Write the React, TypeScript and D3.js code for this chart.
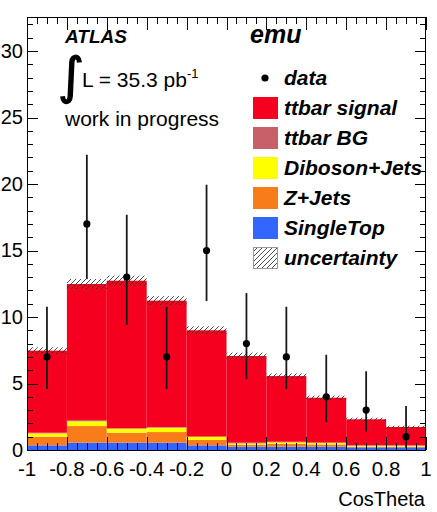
import React from 'react';
import * as d3 from 'd3';

// Bin edges of the CosTheta histogram
const binEdges = [-1, -0.8, -0.6, -0.4, -0.2, 0, 0.2, 0.4, 0.6, 0.8, 1];

// Stacked MC contributions per bin (bottom to top)
const singleTop = [0.35, 0.55, 0.55, 0.55, 0.35, 0.25, 0.25, 0.25, 0.2, 0.2];
const zJets = [0.65, 1.25, 0.75, 0.8, 0.4, 0.15, 0.2, 0.17, 0.05, 0.05];
const dibosonJets = [0.25, 0.36, 0.3, 0.33, 0.23, 0.1, 0.13, 0.11, 0.07, 0.07];
const ttbarBG = [0.05, 0.1, 0.05, 0.05, 0.05, 0.05, 0.04, 0.04, 0.03, 0.03];
const ttbarSignal = [6.17, 10.22, 11.08, 9.5, 7.97, 6.52, 4.94, 3.36, 1.96, 1.38];

// Uncertainty on the MC total
const mcUncertainty = [0.25, 0.38, 0.38, 0.34, 0.3, 0.25, 0.2, 0.16, 0.12, 0.1];

// Observed counts with asymmetric Poisson intervals
const dataCounts = [7, 17, 13, 7, 15, 8, 7, 4, 3, 1];
const dataLow = [4.58, 12.85, 9.42, 4.58, 11.2, 5.32, 4.58, 2.09, 1.37, 0.17];
const dataHigh = [10.77, 22.2, 17.69, 10.77, 19.95, 11.8, 10.77, 7.16, 5.92, 3.3];

// Axis ticks
const xTickValues = [-1, -0.8, -0.6, -0.4, -0.2, 0, 0.2, 0.4, 0.6, 0.8, 1];
const yTickValues = [0, 5, 10, 15, 20, 25, 30];

const keys = ['singleTop', 'zJets', 'dibosonJets', 'ttbarBG', 'ttbarSignal'];
const colors: Record<string, string> = {
  singleTop: '#3366ff',
  zJets: '#f87c1a',
  dibosonJets: '#ffff00',
  ttbarBG: '#c8606a',
  ttbarSignal: '#f5001e',
};

const legendItems = [
  { label: 'ttbar signal', key: 'ttbarSignal' },
  { label: 'ttbar BG', key: 'ttbarBG' },
  { label: 'Diboson+Jets', key: 'dibosonJets' },
  { label: 'Z+Jets', key: 'zJets' },
  { label: 'SingleTop', key: 'singleTop' },
];

const W = 437;
const H = 512;
const left = 27;
const right = 426;
const top = 17;
const bottom = 450;

const FONT = "'Liberation Sans', Arial, Helvetica, sans-serif";

export default function App() {
  const x = d3.scaleLinear().domain([-1, 1]).range([left, right]);
  const y = d3.scaleLinear().domain([0, 32.56]).range([bottom, top]);

  const rows = binEdges.slice(0, -1).map((e, i) => ({
    x0: e,
    x1: binEdges[i + 1],
    singleTop: singleTop[i],
    zJets: zJets[i],
    dibosonJets: dibosonJets[i],
    ttbarBG: ttbarBG[i],
    ttbarSignal: ttbarSignal[i],
  }));
  const series = d3.stack<any>().keys(keys)(rows);
  const totals = rows.map((r) => keys.reduce((s, k) => s + (r as any)[k], 0));

  const xMinor = d3.range(-1, 1.0001, 0.05);
  const yMinor = d3.range(0, 32.5, 1);
  const fmtX = (v: number) => (Math.abs(v) < 1e-9 ? '0' : String(+v.toFixed(1)));

  const legendX = 253;
  const legendRow = (i: number) => 78 + 30 * i;

  return (
    <svg
      width={W}
      height={H}
      style={{ position: 'absolute', left: 0, top: 0, background: '#fff' }}
      fontFamily={FONT}
    >
      <defs>
        <pattern id="hatch" patternUnits="userSpaceOnUse" width={5} height={5}>
          <path d="M-1,1 l2,-2 M0,5 l5,-5 M4,6 l2,-2" stroke="#222" strokeWidth={0.8} />
        </pattern>
        <clipPath id="frame">
          <rect x={left} y={top} width={right - left} height={bottom - top} />
        </clipPath>
      </defs>
      <rect x={0} y={0} width={W} height={H} fill="#fff" />

      {/* stacked MC histograms */}
      <g clipPath="url(#frame)">
        {series.map((s) => (
          <g key={s.key} fill={colors[s.key]}>
            {s.map((d, i) => (
              <rect
                key={i}
                x={x(rows[i].x0)}
                width={x(rows[i].x1) - x(rows[i].x0)}
                y={y(d[1])}
                height={Math.max(0, y(d[0]) - y(d[1]))}
              />
            ))}
          </g>
        ))}
        {/* uncertainty band */}
        {rows.map((r, i) => (
          <rect
            key={i}
            x={x(r.x0)}
            width={x(r.x1) - x(r.x0)}
            y={y(totals[i] + mcUncertainty[i])}
            height={y(totals[i] - mcUncertainty[i]) - y(totals[i] + mcUncertainty[i])}
            fill="url(#hatch)"
          />
        ))}
      </g>

      {/* frame and ticks */}
      <g stroke="#000" strokeWidth={1}>
        {xMinor.map((v, i) => {
          const major = Math.abs(Math.round(v * 5) - v * 5) < 1e-6;
          const len = major ? 13 : 7;
          const px = Math.round(x(v)) + 0.5;
          return (
            <g key={i}>
              <line x1={px} x2={px} y1={bottom} y2={bottom - len} />
              <line x1={px} x2={px} y1={top} y2={top + len} />
            </g>
          );
        })}
        {yMinor.map((v, i) => {
          const major = v % 5 === 0;
          const len = major ? 11 : 6;
          const py = Math.round(y(v)) + 0.5;
          return (
            <g key={i}>
              <line x1={left} x2={left + len} y1={py} y2={py} />
              <line x1={right} x2={right - len} y1={py} y2={py} />
            </g>
          );
        })}
        <rect x={left + 0.5} y={top + 0.5} width={right - left - 1} height={bottom - top} fill="none" />
      </g>

      {/* data with error bars */}
      <g>
        {dataCounts.map((c, i) => {
          const cx = x((binEdges[i] + binEdges[i + 1]) / 2);
          return (
            <g key={i}>
              <line x1={cx} x2={cx} y1={y(dataHigh[i])} y2={y(dataLow[i])} stroke="#1a1a1a" strokeWidth={1.8} />
              <circle cx={cx} cy={y(c)} r={3.6} fill="#000" />
            </g>
          );
        })}
      </g>

      {/* axis labels */}
      <g fontSize={20} fill="#000">
        {yTickValues.map((v) => (
          <text key={v} x={23} y={y(v)} dy="0.34em" textAnchor="end">
            {v}
          </text>
        ))}
        {xTickValues.map((v) => (
          <text key={v} x={x(v)} y={476} textAnchor="middle" fontSize={20.5}>
            {fmtX(v)}
          </text>
        ))}
        <text x={425} y={506} textAnchor="end" fontSize={20}>
          CosTheta
        </text>
      </g>

      {/* labels in the plot area */}
      <text x={65} y={43} fontSize={19} fontWeight="bold" fontStyle="italic">
        ATLAS
      </text>
      <text
        x={58}
        y={93}
        fontSize={50}
        fontFamily="'DejaVu Sans', sans-serif"
        stroke="#000"
        strokeWidth={1.3}
      >
        ∫
      </text>
      <text x={82} y={87} fontSize={21}>
        L = 35.3 pb
        <tspan fontSize={13} dy={-9}>
          -1
        </tspan>
      </text>
      <text x={65} y={126} fontSize={21}>
        work in progress
      </text>
      <text x={250} y={43} fontSize={25} fontWeight="bold" fontStyle="italic">
        emu
      </text>

      {/* legend */}
      <g fontSize={21} fontWeight="bold" fontStyle="italic">
        <circle cx={265} cy={legendRow(0)} r={3.6} fill="#000" />
        <text x={284} y={legendRow(0) + 7}>
          data
        </text>
        {legendItems.map((it, i) => (
          <g key={it.key}>
            <rect
              x={legendX}
              y={legendRow(i + 1) - 11}
              width={25}
              height={22}
              fill={colors[it.key]}
            />
            <text x={284} y={legendRow(i + 1) + 7}>
              {it.label}
            </text>
          </g>
        ))}
        <rect
          x={legendX + 0.5}
          y={legendRow(6) - 10.5}
          width={24}
          height={21}
          fill="url(#hatch)"
          stroke="#999"
          strokeWidth={1}
        />
        <text x={284} y={legendRow(6) + 7}>
          uncertainty
        </text>
      </g>
    </svg>
  );
}
